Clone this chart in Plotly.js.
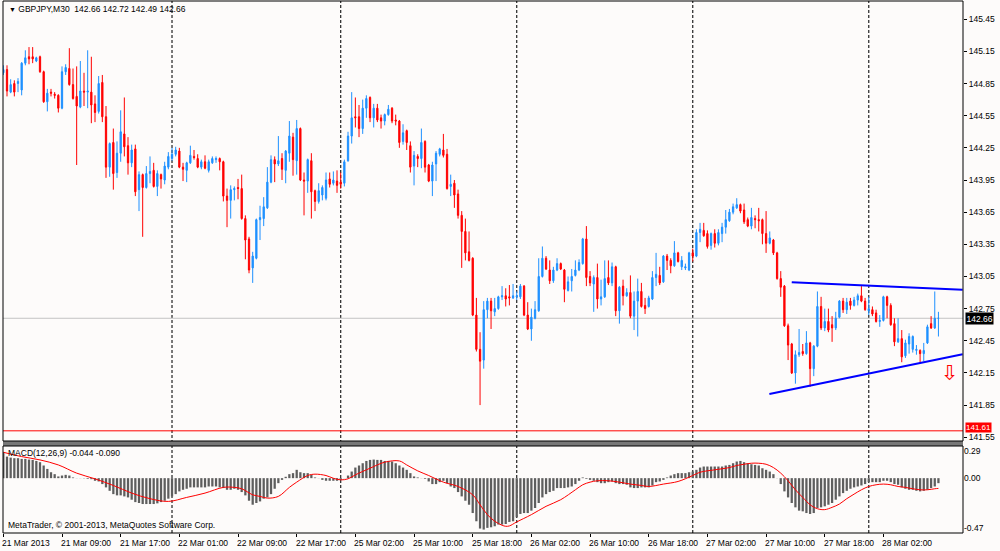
<!DOCTYPE html>
<html><head><meta charset="utf-8">
<script src="https://cdn.plot.ly/plotly-3.0.1.min.js"></script>
<style>html,body{margin:0;padding:0;background:#fdfbfa;}#chart{width:1000px;height:551px;}</style>
</head><body><div id="chart"></div>
<script>
// ---- data (GBPJPY M30, bar index 0 = 21 Mar 2013 01:00) ----
const openP = [
144.95,144.98,144.77,144.85,144.85,144.79,145.04,145.10,145.10,145.06,
145.10,144.96,144.68,144.77,144.75,144.74,144.62,144.96,144.99,144.84,
144.73,144.63,144.78,144.77,144.77,144.66,144.59,144.86,144.54,144.07,
144.30,144.02,144.20,144.38,144.27,144.11,144.24,143.86,144.00,143.88,
144.01,144.04,143.89,144.00,143.95,144.07,144.15,144.19,144.22,144.07,
144.04,144.11,144.17,144.15,144.07,144.12,144.04,144.11,144.14,144.15,
144.12,143.80,143.76,143.86,143.88,143.87,143.59,143.40,143.13,143.22,
143.58,143.59,143.69,143.93,144.14,144.10,144.15,144.04,144.20,144.35,
144.13,144.43,143.95,143.94,144.13,143.85,143.75,143.81,143.78,143.96,
143.92,143.94,143.93,143.92,144.13,144.36,144.54,144.54,144.43,144.62,
144.72,144.53,144.62,144.53,144.50,144.56,144.62,144.51,144.50,144.31,
144.41,144.27,144.08,144.17,144.15,144.31,144.09,143.94,144.10,144.19,
144.23,144.19,143.89,143.92,143.82,143.62,143.47,143.28,143.22,142.69,
142.37,142.27,142.74,142.82,142.72,142.75,142.86,142.87,142.86,142.85,
142.86,142.86,142.96,142.69,142.56,142.66,142.73,143.05,143.22,143.11,
143.01,143.11,143.17,143.11,142.92,143.01,143.06,143.11,143.17,143.40,
143.05,142.98,143.04,142.84,142.86,143.04,142.99,143.14,142.73,142.96,
142.87,142.90,142.68,142.82,142.91,142.78,142.77,142.84,143.04,143.06,
143.00,143.24,143.20,143.15,143.27,143.14,143.13,143.11,143.27,143.24,
143.46,143.48,143.45,143.34,143.45,143.36,143.45,143.51,143.57,143.65,
143.69,143.72,143.67,143.58,143.52,143.59,143.58,143.58,143.45,143.36,
143.39,143.27,143.03,142.96,142.59,142.42,142.15,142.32,142.35,142.33,
142.43,142.19,142.40,142.77,142.57,142.63,142.60,142.57,142.67,142.82,
142.74,142.82,142.78,142.83,142.87,142.82,142.73,142.74,142.71,142.63,
142.64,142.86,142.78,142.61,142.44,142.47,142.31,142.42,142.37,142.36,
142.36,142.33,142.43,142.61,142.57,142.66];
const highP = [
145.02,145.02,144.89,144.88,144.90,145.05,145.16,145.19,145.19,145.10,
145.11,144.97,144.80,144.80,144.77,144.75,145.01,145.03,145.18,144.99,
145.01,145.06,144.95,145.16,145.10,144.74,144.92,144.93,144.64,144.30,
144.43,144.31,144.60,144.72,144.35,144.28,144.28,144.03,144.01,144.08,
144.17,144.11,144.04,144.01,144.12,144.21,144.25,144.26,144.25,144.11,
144.12,144.27,144.23,144.19,144.14,144.18,144.14,144.17,144.17,144.16,
144.13,143.87,143.90,143.89,143.96,144.00,143.62,143.42,143.28,143.59,
143.71,143.79,144.07,144.18,144.17,144.36,144.20,144.23,144.50,144.39,
144.51,144.44,144.02,144.15,144.20,143.86,143.92,143.90,144.02,144.02,
144.03,144.04,144.02,144.14,144.40,144.77,144.72,144.65,144.70,144.74,
144.73,144.66,144.66,144.56,144.57,144.65,144.63,144.56,144.51,144.47,
144.42,144.31,144.22,144.19,144.43,144.32,144.10,144.12,144.22,144.25,
144.38,144.24,144.00,143.95,143.86,143.66,143.59,143.47,143.23,142.85,
142.53,142.82,142.85,142.85,142.85,142.87,142.96,142.94,142.97,142.98,
142.91,142.98,142.97,142.81,142.75,142.82,143.22,143.33,143.24,143.20,
143.14,143.22,143.18,143.12,143.05,143.12,143.20,143.21,143.41,143.52,
143.10,143.06,143.17,143.02,143.20,143.20,143.18,143.15,142.96,143.02,
142.94,143.06,142.91,143.03,142.99,142.85,142.87,143.10,143.27,143.14,
143.25,143.26,143.22,143.38,143.28,143.24,143.17,143.28,143.31,143.49,
143.55,143.55,143.48,143.46,143.49,143.49,143.55,143.67,143.68,143.73,
143.78,143.73,143.73,143.60,143.69,143.62,143.69,143.59,143.66,143.47,
143.40,143.28,143.10,142.97,142.61,142.43,142.36,142.56,142.42,142.54,
142.44,142.41,142.91,142.86,142.75,142.75,142.68,142.72,142.83,142.85,
142.85,142.85,142.86,142.89,142.96,142.85,142.86,142.77,142.74,142.69,
142.87,142.87,142.80,142.66,142.66,142.55,142.46,142.52,142.50,142.41,
142.37,142.43,142.60,142.68,142.91,142.72];
const lowP = [
144.93,144.73,144.76,144.73,144.77,144.74,145.02,145.03,145.04,145.05,
144.95,144.67,144.59,144.73,144.71,144.58,144.61,144.93,144.83,144.70,
144.09,144.62,144.64,144.62,144.48,144.49,144.57,144.49,143.97,143.98,
143.86,143.97,144.12,144.17,144.00,144.07,143.80,143.66,143.42,143.87,
143.92,143.88,143.80,143.87,143.91,144.05,144.13,144.17,144.06,143.94,
143.93,144.10,144.14,144.06,144.05,144.05,144.02,144.10,144.11,144.04,
143.75,143.51,143.59,143.76,143.77,143.58,143.21,143.08,142.99,143.21,
143.39,143.52,143.68,143.92,143.93,144.08,143.95,143.92,144.12,143.99,
144.00,143.94,143.62,143.83,143.59,143.66,143.73,143.76,143.76,143.88,
143.90,143.83,143.87,143.89,144.12,144.29,144.44,144.35,144.38,144.53,
144.49,144.44,144.49,144.43,144.46,144.55,144.48,144.46,144.25,144.28,
144.23,144.02,143.90,144.07,144.06,144.02,143.93,143.80,143.94,144.17,
144.16,143.86,143.80,143.69,143.59,143.13,143.20,143.19,142.68,142.35,
141.85,142.19,142.66,142.56,142.68,142.74,142.83,142.77,142.78,142.84,
142.83,142.84,142.68,142.55,142.45,142.65,142.72,143.04,143.11,142.98,
142.99,143.10,143.11,142.81,142.91,142.91,143.05,143.10,143.16,142.96,
142.96,142.72,142.75,142.78,142.85,142.97,142.96,142.68,142.61,142.78,
142.86,142.66,142.55,142.49,142.76,142.70,142.76,142.83,142.96,142.97,
142.99,143.11,143.08,143.14,143.18,143.11,143.11,143.10,143.19,143.23,
143.37,143.42,143.31,143.30,143.32,143.34,143.37,143.45,143.56,143.63,
143.68,143.64,143.54,143.51,143.49,143.50,143.47,143.35,143.27,143.35,
143.25,143.02,142.86,142.58,142.27,142.14,142.05,142.30,142.31,142.32,
142.02,142.12,142.39,142.55,142.54,142.53,142.44,142.55,142.66,142.71,
142.70,142.74,142.77,142.78,142.81,142.73,142.69,142.68,142.62,142.58,
142.63,142.66,142.59,142.40,142.43,142.25,142.29,142.33,142.34,142.32,
142.24,142.26,142.42,142.56,142.56,142.49];
const closeP = [
144.98,144.78,144.84,144.77,144.87,145.04,145.09,145.08,145.08,145.09,
144.96,144.68,144.76,144.76,144.74,144.62,144.96,145.00,144.84,144.71,
144.64,144.78,144.77,144.78,144.65,144.58,144.85,144.54,144.07,144.29,
144.01,144.20,144.40,144.26,144.11,144.23,143.84,144.00,143.88,144.01,
144.03,143.89,144.01,143.96,144.08,144.17,144.19,144.23,144.07,144.05,
144.11,144.18,144.16,144.07,144.12,144.06,144.12,144.15,144.15,144.12,
143.80,143.76,143.86,143.87,143.87,143.59,143.39,143.11,143.24,143.58,
143.60,143.70,143.93,144.14,144.10,144.13,144.05,144.22,144.36,144.14,
144.43,143.95,143.94,144.14,143.84,143.75,143.85,143.88,143.95,143.91,
143.95,143.90,143.91,144.12,144.36,144.53,144.53,144.43,144.62,144.71,
144.53,144.62,144.51,144.50,144.56,144.61,144.50,144.50,144.30,144.39,
144.30,144.07,144.18,144.15,144.30,144.07,143.94,144.09,144.20,144.24,
144.18,143.87,143.91,143.81,143.62,143.47,143.27,143.20,142.69,142.37,
142.26,142.74,142.82,142.73,142.75,142.86,142.87,142.84,142.85,142.87,
142.87,142.96,142.69,142.56,142.67,142.74,143.05,143.22,143.12,143.01,
143.11,143.17,143.12,142.93,143.00,143.05,143.11,143.18,143.40,143.04,
142.99,143.04,142.84,142.86,143.03,142.99,143.14,142.73,142.95,142.87,
142.90,142.68,142.82,142.91,142.77,142.75,142.85,143.04,143.07,142.99,
143.24,143.20,143.15,143.27,143.19,143.20,143.14,143.27,143.24,143.46,
143.49,143.43,143.33,143.45,143.36,143.46,143.51,143.58,143.65,143.70,
143.72,143.66,143.56,143.52,143.60,143.58,143.57,143.45,143.36,143.41,
143.27,143.03,142.95,142.59,142.41,142.15,142.32,142.34,142.33,142.43,
142.19,142.40,142.77,142.57,142.63,142.55,142.57,142.66,142.82,142.74,
142.81,142.78,142.83,142.87,142.82,142.74,142.75,142.70,142.63,142.64,
142.86,142.78,142.60,142.44,142.47,142.30,142.43,142.49,142.49,142.37,
142.33,142.36,142.58,142.57,142.66,142.66];
const macdMain = [
0.227,0.189,0.180,0.175,0.175,0.169,0.169,0.163,0.160,0.151,
0.140,0.111,0.081,0.052,0.035,0.015,0.023,0.029,0.023,0.006,
0.001,-0.001,-0.002,-0.006,-0.009,-0.023,-0.029,-0.052,-0.081,-0.111,
-0.140,-0.151,-0.151,-0.160,-0.169,-0.189,-0.210,-0.218,-0.227,-0.227,
-0.227,-0.227,-0.221,-0.210,-0.198,-0.180,-0.160,-0.140,-0.116,-0.102,
-0.093,-0.081,-0.081,-0.081,-0.081,-0.081,-0.073,-0.073,-0.073,-0.081,
-0.087,-0.102,-0.102,-0.093,-0.102,-0.122,-0.151,-0.198,-0.233,-0.218,
-0.204,-0.180,-0.169,-0.140,-0.093,-0.044,-0.015,0.012,0.035,0.044,
0.073,0.052,0.044,0.044,0.029,0.006,-0.001,-0.015,-0.023,-0.023,
-0.023,-0.023,-0.015,-0.001,0.023,0.058,0.093,0.111,0.131,0.151,
0.160,0.163,0.160,0.160,0.151,0.151,0.146,0.131,0.111,0.093,
0.073,0.044,0.015,0.006,0.001,-0.006,-0.029,-0.052,-0.052,-0.035,
-0.023,-0.044,-0.073,-0.087,-0.122,-0.160,-0.198,-0.233,-0.306,-0.378,
-0.442,-0.451,-0.436,-0.431,-0.422,-0.407,-0.407,-0.402,-0.384,-0.378,
-0.343,-0.314,-0.306,-0.306,-0.285,-0.262,-0.218,-0.169,-0.140,-0.122,
-0.111,-0.087,-0.087,-0.087,-0.081,-0.073,-0.052,-0.023,0.006,-0.006,
-0.015,-0.023,-0.035,-0.044,-0.044,-0.035,-0.029,-0.044,-0.052,-0.052,
-0.058,-0.081,-0.087,-0.087,-0.081,-0.081,-0.081,-0.064,-0.035,-0.029,
-0.015,0.006,0.023,0.035,0.044,0.044,0.044,0.052,0.058,0.073,
0.093,0.102,0.102,0.102,0.102,0.102,0.102,0.111,0.116,0.131,
0.146,0.151,0.140,0.131,0.122,0.116,0.111,0.087,0.073,0.058,
0.035,-0.001,-0.052,-0.116,-0.169,-0.218,-0.256,-0.285,-0.291,-0.306,
-0.314,-0.306,-0.262,-0.256,-0.247,-0.233,-0.218,-0.189,-0.160,-0.131,
-0.111,-0.093,-0.081,-0.073,-0.064,-0.052,-0.035,-0.035,-0.035,-0.035,
-0.023,-0.023,-0.035,-0.052,-0.058,-0.081,-0.093,-0.102,-0.102,-0.111,
-0.116,-0.111,-0.102,-0.087,-0.073,-0.044];
const signalBars = [0,5,10,15,20,25,30,35,40,45,50,55,60,63,65,68,70,72,75,78,80,83,85,88,90,92,94,96,100,104,108,110,113,116,120,124,128,130,132,134,136,137,138,140,144,148,152,156,158,160,162,165,168,171,174,176,180,184,188,190,194,198,200,202,204,206,208,210,212,214,216,218,220,222,224,226,228,230,232,234,236,238,240,242,244,246,248,250,252,254,255];
const signalVals = [0.227,0.189,0.160,0.116,0.044,-0.006,-0.064,-0.131,-0.180,-0.204,-0.169,-0.131,-0.081,-0.081,-0.093,-0.146,-0.160,-0.175,-0.160,-0.081,-0.035,0.023,0.035,0.023,-0.001,-0.015,-0.006,0.029,0.087,0.140,0.151,0.116,0.064,0.023,-0.035,-0.073,-0.146,-0.233,-0.320,-0.378,-0.413,-0.422,-0.419,-0.384,-0.320,-0.247,-0.189,-0.102,-0.058,-0.035,-0.023,-0.023,-0.035,-0.052,-0.064,-0.073,-0.052,-0.029,0.023,0.052,0.073,0.093,0.111,0.122,0.131,0.131,0.122,0.093,0.044,-0.023,-0.102,-0.169,-0.233,-0.268,-0.276,-0.256,-0.227,-0.180,-0.140,-0.102,-0.073,-0.058,-0.052,-0.058,-0.073,-0.081,-0.093,-0.102,-0.102,-0.093,-0.090];
const priceTicks = [145.45,145.15,144.85,144.55,144.25,143.95,143.65,143.35,143.05,142.75,142.45,142.15,141.85,141.55];
const timeLabelBars = [0,16,32,48,64,80,96,112,128,144,160,176,192,208,224,240];
const timeLabels = ['21 Mar 2013','21 Mar 09:00','21 Mar 17:00','22 Mar 01:00','22 Mar 09:00','22 Mar 17:00','25 Mar 02:00','25 Mar 10:00','25 Mar 18:00','26 Mar 02:00','26 Mar 10:00','26 Mar 18:00','27 Mar 02:00','27 Mar 10:00','27 Mar 18:00','28 Mar 02:00'];
const daySeparatorBars = [46,92,140,188,236];
const upperTrendX = [215.0, 261.6], upperTrendY = [142.996, 142.927];
const lowerTrendX = [208.9, 261.6], lowerTrendY = [141.954, 142.324];
const bidPrice = 142.66, levelPrice = 141.61;
const sellArrowBar = 258.2, sellArrowPrice = 142.15;
const macdTickVals = [0.238, 0, -0.437], macdTickText = ['0.29','0.00','-0.47'];

const barIdx = closeP.map((_, i) => i);
const FONT = 'Liberation Sans, Arial, sans-serif';
const BG = '#fdfbfa';

const traces = [
  {type:'candlestick', x:barIdx, open:openP, high:highP, low:lowP, close:closeP,
   xaxis:'x', yaxis:'y', hoverinfo:'skip', whiskerwidth:0,
   increasing:{line:{color:'#1e90ff', width:1}, fillcolor:'#1e90ff'},
   decreasing:{line:{color:'#ff0000', width:1}, fillcolor:'#ff0000'}},
  {type:'scatter', mode:'lines', x:upperTrendX, y:upperTrendY, xaxis:'x', yaxis:'y',
   line:{color:'#0000ff', width:2}, hoverinfo:'skip'},
  {type:'scatter', mode:'lines', x:lowerTrendX, y:lowerTrendY, xaxis:'x', yaxis:'y',
   line:{color:'#0000ff', width:2}, hoverinfo:'skip'},
  {type:'bar', x:barIdx, y:macdMain, xaxis:'x', yaxis:'y2', width:0.62,
   marker:{color:'#5e5e5e', line:{width:0}}, hoverinfo:'skip'},
  {type:'scatter', mode:'lines', x:signalBars, y:signalVals, xaxis:'x', yaxis:'y2',
   line:{color:'#ff0000', width:1, shape:'spline', smoothing:1}, hoverinfo:'skip'}
];

const H = 532; // plot height in px (551 - t - b)
const priceBottom = (533 - 441) / H;
const macdTop = (533 - 446) / H;

const shapes = [];
daySeparatorBars.forEach(b => shapes.push({type:'line', xref:'x', yref:'paper', x0:b, x1:b, y0:0, y1:1,
  line:{color:'#222', width:1.2, dash:'3px,2px'}, layer:'below'}));
shapes.push({type:'line', xref:'paper', yref:'y', x0:0, x1:1, y0:bidPrice, y1:bidPrice, line:{color:'#c4c4c4', width:1}, layer:'below'});
shapes.push({type:'line', xref:'paper', yref:'y', x0:0, x1:1, y0:levelPrice, y1:levelPrice, line:{color:'#ff0000', width:1}});
shapes.push({type:'rect', xref:'paper', yref:'paper', x0:0, x1:1, y0:macdTop, y1:priceBottom, fillcolor:'#777', line:{width:0}});
shapes.push({type:'rect', xref:'paper', yref:'paper', x0:0, x1:1, y0:priceBottom, y1:1, line:{color:'#000', width:1}});
shapes.push({type:'rect', xref:'paper', yref:'paper', x0:0, x1:1, y0:0, y1:macdTop, line:{color:'#000', width:1}});

const annotations = [
  {xref:'paper', yref:'paper', x:0.004, y:1, xanchor:'left', yanchor:'top', yshift:-1, showarrow:false,
   text:'<span style="font-size:7px">▼</span> GBPJPY,M30  142.66 142.72 142.49 142.66', font:{family:FONT, size:8.5, color:'#000'}},
  {xref:'paper', yref:'paper', x:0.003, y:macdTop, xanchor:'left', yanchor:'top', yshift:0, showarrow:false,
   text:'MACD(12,26,9) -0.044 -0.090', font:{family:FONT, size:8.5, color:'#000'}},
  {xref:'paper', yref:'paper', x:0.003, y:0, xanchor:'left', yanchor:'bottom', yshift:1, showarrow:false,
   text:'MetaTrader, © 2001-2013, MetaQuotes Software Corp.', font:{family:FONT, size:8.5, color:'#000'}},
  {xref:'paper', yref:'y', x:1, y:bidPrice, xanchor:'left', xshift:2, showarrow:false, text:bidPrice.toFixed(2),
   bgcolor:'#000', borderpad:0.5, font:{family:FONT, size:8.5, color:'#fff'}},
  {xref:'paper', yref:'y', x:1, y:levelPrice, xanchor:'left', xshift:2, yshift:3, showarrow:false, text:levelPrice.toFixed(2),
   bgcolor:'#ff0000', borderpad:0, font:{family:FONT, size:8, color:'#fff'}},
  {xref:'x', yref:'y', x:sellArrowBar, y:sellArrowPrice, showarrow:false, text:'⇩',
   font:{family:'DejaVu Sans', size:21, color:'#ff0000'}}
];
timeLabelBars.forEach((b, i) => annotations.push({xref:'x', yref:'paper', x:b, y:0, xanchor:'left', yanchor:'top',
  xshift:-3, yshift:-3, showarrow:false, text:timeLabels[i], font:{family:FONT, size:8.5, color:'#000'}}));

const layout = {
  width:1000, height:551, paper_bgcolor:BG, plot_bgcolor:BG, showlegend:false,
  margin:{l:3, r:37, t:1, b:18, pad:0},
  xaxis:{range:[-0.09, 261.7], anchor:'y2', showgrid:false, zeroline:false, showline:false,
    ticks:'outside', ticklen:3, tickcolor:'#000', tickvals:timeLabelBars, showticklabels:false,
    rangeslider:{visible:false}, fixedrange:true},
  yaxis:{domain:[priceBottom, 1], range:[141.515, 145.62], side:'right', anchor:'x', showgrid:false, zeroline:false,
    tickvals:priceTicks, tickformat:'.2f', ticks:'outside', ticklen:3, tickcolor:'#000',
    tickfont:{family:FONT, size:8.5, color:'#000'}, fixedrange:true},
  yaxis2:{domain:[0, macdTop], range:[-0.481, 0.282], side:'right', anchor:'x', showgrid:false, zeroline:false,
    tickvals:macdTickVals, ticktext:macdTickText, ticks:'', tickfont:{family:FONT, size:8.5, color:'#000'}, fixedrange:true},
  boxgap:0.5,
  shapes:shapes, annotations:annotations
};

Plotly.newPlot('chart', traces, layout, {displayModeBar:false, staticPlot:true});
</script></body></html>
